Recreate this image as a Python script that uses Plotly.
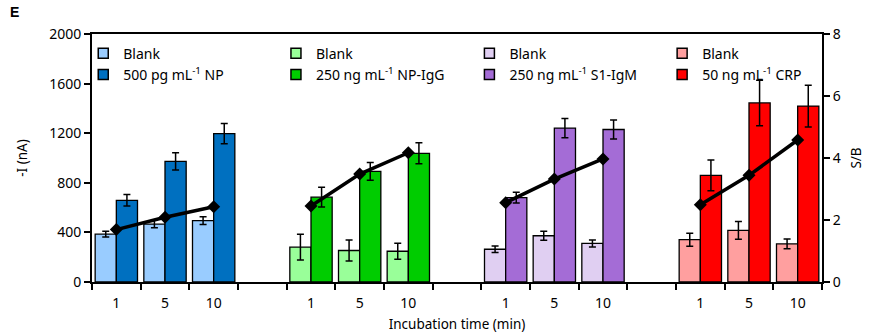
import plotly.graph_objects as go

# Data
time_labels = ["1", "5", "10"]
groups = ["500 pg mL<sup>-1</sup> NP", "250 ng mL<sup>-1</sup> NP-IgG",
          "250 ng mL<sup>-1</sup> S1-IgM", "50 ng mL<sup>-1</sup> CRP"]
blank_vals = [[386, 467, 495], [281, 254, 248], [264, 373, 311], [341, 416, 308]]
blank_err = [[23, 30, 32], [104, 84, 65], [26, 37, 28], [53, 72, 39]]
signal_vals = [[659, 973, 1197], [684, 892, 1038], [681, 1241, 1230], [860, 1444, 1419]]
signal_err = [[46, 70, 82], [80, 72, 84], [43, 77, 76], [124, 184, 168]]
sb_vals = [[1.69, 2.09, 2.43], [2.45, 3.48, 4.17], [2.56, 3.32, 3.97], [2.49, 3.44, 4.58]]
light_colors = ["#99CCFF", "#99FF99", "#E0CFF2", "#FF9F9F"]
dark_colors = ["#0070C0", "#00CC00", "#A46CD6", "#FF0000"]

FONT = "Noto Sans"
fig = go.Figure()

legend_names = ["legend", "legend2", "legend3", "legend4"]
tick_vals, tick_text = [], []
for g in range(4):
    xs = [g * 4 + i for i in range(3)]
    tick_vals += xs
    tick_text += time_labels
    fig.add_trace(go.Bar(
        x=xs, y=blank_vals[g], name="Blank", showlegend=False,
        offset=-0.435, width=0.435,
        marker=dict(color=light_colors[g], line=dict(color="black", width=1.3)),
        error_y=dict(type="data", array=blank_err[g], color="black", thickness=1.5, width=3.5),
    ))
    fig.add_trace(go.Bar(
        x=xs, y=signal_vals[g], name=groups[g], showlegend=False,
        offset=0, width=0.435,
        marker=dict(color=dark_colors[g], line=dict(color="black", width=1.3)),
        error_y=dict(type="data", array=signal_err[g], color="black", thickness=1.5, width=3.5),
    ))

for g in range(4):
    xs = [g * 4 + i for i in range(3)]
    fig.add_trace(go.Scatter(
        x=xs, y=sb_vals[g], yaxis="y2", mode="lines+markers", showlegend=False,
        line=dict(color="black", width=3.5),
        marker=dict(symbol="diamond", size=10, color="black"),
    ))

# legend proxies (square swatches)
for g in range(4):
    for name, col in (("Blank", light_colors[g]), (groups[g], dark_colors[g])):
        fig.add_trace(go.Scatter(
            x=[None], y=[None], mode="markers", name=name, legend=legend_names[g],
            marker=dict(symbol="square", size=10, color=col, line=dict(color="black", width=1.5)),
        ))

leg_x = [-0.012, 0.252, 0.517, 0.781]
for i, ln in enumerate(legend_names):
    fig.update_layout({ln: dict(x=leg_x[i], y=0.985, xanchor="left", yanchor="top",
                                bgcolor="rgba(0,0,0,0)", font=dict(family=FONT, size=14, color="black"),
                                itemwidth=30, tracegroupgap=0, traceorder="normal")})

fig.update_layout(
    width=871, height=335,
    margin=dict(l=92, r=49, t=34, b=53),
    paper_bgcolor="white", plot_bgcolor="white",
    barmode="overlay",
    font=dict(family=FONT, size=14, color="black"),
    xaxis=dict(
        range=[-0.5, 14.5], tickvals=tick_vals, ticktext=tick_text, automargin=False,
        ticks="outside", ticklen=7, tickcolor="rgba(0,0,0,0)",
        showline=True, linecolor="black", linewidth=2, mirror=True,
        showgrid=False, zeroline=False,
        minor=dict(tick0=-0.5, dtick=1, ticks="outside", ticklen=6, tickcolor="black", tickwidth=1.5, showgrid=False),
        title=dict(text="Incubation time (min)", font=dict(size=13.5), standoff=9),
        tickfont=dict(size=14),
    ),
    yaxis=dict(
        range=[0, 2000], dtick=400, ticks="outside", ticklen=6, tickwidth=1.5, tickcolor="black",
        showline=True, linecolor="black", linewidth=2, showgrid=False, zeroline=False, automargin=False,
        title=dict(text="-I (nA)", font=dict(size=13.5), standoff=18),
        tickfont=dict(size=14),
    ),
    yaxis2=dict(
        range=[0, 8], dtick=2, overlaying="y", side="right", automargin=False,
        ticks="outside", ticklen=6, tickwidth=1.5, tickcolor="black",
        showline=True, linecolor="black", linewidth=2, showgrid=False, zeroline=False,
        title=dict(text="S/B", font=dict(size=13.5), standoff=12),
        tickfont=dict(size=14),
    ),
    annotations=[dict(text="<b>E</b>", x=(8 - 92) / 730, y=(282 - 12) / 248,
                      xref="paper", yref="paper",
                      xanchor="left", yanchor="middle", showarrow=False,
                      font=dict(family="Liberation Sans", size=14, color="black"))],
)

fig.write_html("out.html")
